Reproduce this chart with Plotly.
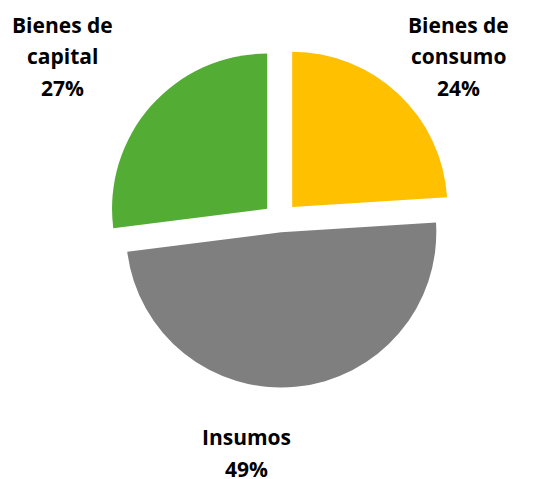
"""Composición por destino económico: gráfico de torta."""

import plotly.graph_objects as go

categorias = ["Bienes de consumo", "Insumos", "Bienes de capital"]
porcentajes = [24, 49, 27]
colores = ["#FFC000", "#7F7F7F", "#53AC34"]
separacion = [0.115, 0.08, 0.11]

# líneas de cada etiqueta (texto como aparece en el original)
lineas_etiqueta = [["Bienes de", "consumo"], ["Insumos"], ["Bienes de", "capital"]]

# la página deja 8 px de margen arriba y a la izquierda
W, H = 547, 471
OFF = 8

fig = go.Figure(
    go.Pie(
        labels=categorias,
        values=porcentajes,
        sort=False,
        direction="clockwise",
        rotation=0,
        pull=separacion,
        marker=dict(colors=colores, line=dict(width=0)),
        textinfo="none",
        hoverinfo="label+percent",
        showlegend=False,
        domain=dict(x=[0.181, 0.8135], y=[0.1826, 0.9172]),
    )
)

# centro (px, en la imagen) de cada bloque de texto y de su primera línea
pos_etiqueta = {
    "Bienes de consumo": (458, 25),
    "Insumos": (246, 437),
    "Bienes de capital": (62, 25),
}
interlinea = 31.5

anotaciones = []
for cat, pct, lineas in zip(categorias, porcentajes, lineas_etiqueta):
    cx, y0 = pos_etiqueta[cat]
    for i, txt in enumerate(lineas + [f"{pct}%"]):
        anotaciones.append(
            dict(
                text=f"<b>{txt}</b>",
                x=(cx - OFF) / W,
                y=1 - (y0 + i * interlinea - OFF) / H,
                xref="paper",
                yref="paper",
                xanchor="center",
                yanchor="middle",
                showarrow=False,
                font=dict(size=21, color="#000000"),
            )
        )

fig.update_layout(
    width=W,
    height=H,
    margin=dict(l=0, r=0, t=0, b=0),
    font=dict(family="'Open Sans', Lato, sans-serif"),
    paper_bgcolor="white",
    plot_bgcolor="white",
    annotations=anotaciones,
)

fig.write_html("out.html")
